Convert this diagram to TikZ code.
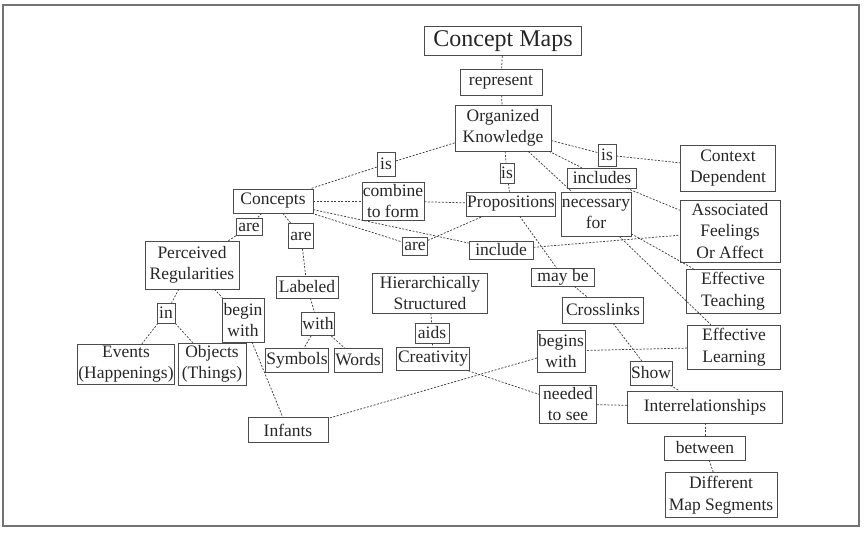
\documentclass[tikz,border=0pt]{standalone}
\usepackage{fontspec}
\setmainfont{Liberation Serif}
\newcommand\mkbox[6]{\node[cbox,minimum width=#4pt,minimum height=#5pt] (#1) at (#2,#3) {#6};}
\begin{document}
\begin{tikzpicture}[x=1pt,y=-1pt,
  cbox/.style={draw=black!70, line width=0.6pt, inner sep=1pt, align=center,
    text=black!85, font=\fontsize{17.5}{21.5}\selectfont},
  link/.style={draw=black!75, line width=0.75pt, dash pattern=on 2pt off 1.5pt},
  frame/.style={draw=black!55, line width=1.2pt}]
\useasboundingbox (0,0) rectangle (864,535);
\draw[frame] (3,5) rectangle (859,526);
\node[cbox,minimum width=157pt,minimum height=29pt,font=\fontsize{24}{28}\selectfont] (cm) at (503,41) {Concept Maps};
\mkbox{rep}{501}{82}{82}{26}{represent}
\mkbox{ok}{503}{128}{96}{46}{Organized\\Knowledge}
\mkbox{isL}{386}{164}{18}{24}{is}
\mkbox{isM}{507}{173}{14}{20}{is}
\mkbox{isR}{607}{155}{18}{22}{is}
\mkbox{includes}{602}{178}{69}{20}{includes}
\mkbox{context}{728}{168}{95}{46}{Context\\Dependent}
\mkbox{concepts}{273}{201}{80}{24}{Concepts}
\mkbox{combine}{393}{201}{60}{38}{combine\\to form}
\mkbox{props}{511}{204}{89}{24}{Propositions}
\mkbox{necfor}{596}{214}{67}{44}{necessary\\for}
\mkbox{assoc}{730}{231}{100}{62}{Associated\\Feelings\\Or Affect}
\mkbox{areL}{249}{227}{26}{17}{are}
\mkbox{areM}{301}{236}{25}{25}{are}
\mkbox{areN}{415}{246}{25}{18}{are}
\mkbox{include}{501}{250}{64}{18}{include}
\mkbox{perceived}{192}{265}{94}{48}{Perceived\\Regularities}
\mkbox{labeled}{307}{287}{62}{22}{Labeled}
\mkbox{hier}{430}{293}{115}{40}{Hierarchically\\Structured}
\mkbox{maybe}{563}{277}{63}{18}{may be}
\mkbox{efteach}{733}{291}{94}{44}{Effective\\Teaching}
\mkbox{crosslinks}{603}{310}{81}{26}{Crosslinks}
\mkbox{in}{166}{313}{18}{20}{in}
\mkbox{beginwith}{243}{320}{42}{44}{begin\\with}
\mkbox{with}{318}{324}{30}{23}{with}
\mkbox{aids}{432}{333}{34}{20}{aids}
\mkbox{eflearn}{734}{347}{93}{44}{Effective\\Learning}
\mkbox{events}{126}{364}{97}{40}{Events\\(Happenings)}
\mkbox{objects}{212}{364}{68}{42}{Objects\\(Things)}
\mkbox{symbols}{297}{360}{63}{24}{Symbols}
\mkbox{words}{358}{360}{48}{24}{Words}
\mkbox{creativity}{433}{359}{73}{23}{Creativity}
\mkbox{begins}{561}{351}{44}{42}{begins\\with}
\mkbox{show}{651}{373}{38}{24}{Show}
\mkbox{needed}{568}{404}{57}{38}{needed\\to see}
\mkbox{interrel}{705}{407}{155}{32}{Interrelationships}
\mkbox{infants}{288}{430}{80}{25}{Infants}
\mkbox{between}{705}{448}{81}{24}{between}
\mkbox{different}{721}{495}{112}{45}{Different\\Map Segments}
% connectors
\draw[link] (cm) -- (rep);
\draw[link] (rep) -- (ok);
\draw[link] (ok) -- (isL);
\draw[link] (isL) -- (concepts);
\draw[link] (ok) -- (isM);
\draw[link] (isM) -- (props);
\draw[link] (ok) -- (isR);
\draw[link] (isR) -- (context);
\draw[link] (ok) -- (includes);
\draw[link] (includes) -- (assoc);
\draw[link] (ok) -- (necfor);
\draw[link] (necfor) -- (efteach);
\draw[link] (necfor) -- (eflearn);
\draw[link] (concepts) -- (combine);
\draw[link] (combine) -- (props);
\draw[link] (concepts) -- (areN);
\draw[link] (areN) -- (props);
\draw[link] (concepts) -- (include);
\draw[link] (include) -- (assoc);
\draw[link] (concepts) -- (areL);
\draw[link] (areL) -- (perceived);
\draw[link] (concepts) -- (areM);
\draw[link] (areM) -- (labeled);
\draw[link] (labeled) -- (with);
\draw[link] (with) -- (symbols);
\draw[link] (with) -- (words);
\draw[link] (perceived) -- (in);
\draw[link] (in) -- (events);
\draw[link] (in) -- (objects);
\draw[link] (perceived) -- (beginwith);
\draw[link] (beginwith) -- (infants);
\draw[link] (hier) -- (aids);
\draw[link] (aids) -- (creativity);
\draw[link] (creativity) -- (needed);
\draw[link] (needed) -- (interrel);
\draw[link] (props) -- (maybe);
\draw[link] (maybe) -- (crosslinks);
\draw[link] (crosslinks) -- (show);
\draw[link] (show) -- (interrel);
\draw[link] (interrel) -- (between);
\draw[link] (between) -- (different);
\draw[link] (eflearn) -- (begins);
\draw[link] (begins) -- (infants);
\end{tikzpicture}
\end{document}
